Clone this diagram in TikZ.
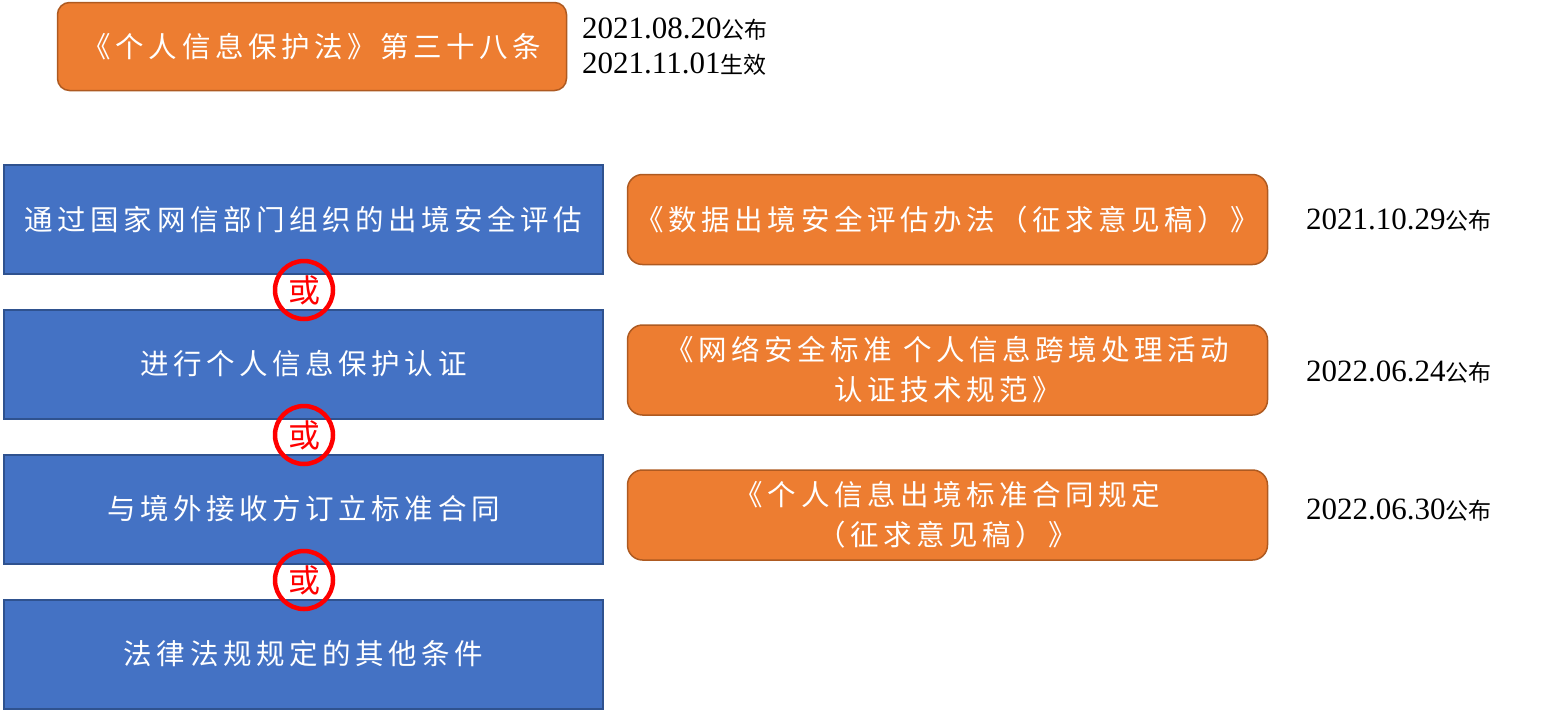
\documentclass[tikz,border=0pt]{standalone}
\usepackage{fontspec}
\usepackage{tikz}
\setmainfont{Liberation Serif}
\newfontfamily\cjk[LetterSpace=16]{Noto Sans CJK SC}
\newfontfamily\cjkdate{Noto Sans CJK SC}
\newcommand{\datezh}[1]{{\cjkdate\fontsize{23}{23}\selectfont #1}}
\definecolor{boxblue}{HTML}{4472C4}
\definecolor{blueline}{HTML}{2F528F}
\definecolor{boxorange}{HTML}{ED7D31}
\definecolor{orangeline}{HTML}{AE5A21}

\begin{document}
\begin{tikzpicture}[x=1pt,y=-1pt]
    \tikzstyle{cond}=[draw=blueline,line width=2pt,fill=boxblue,minimum width=599pt,minimum height=109pt,inner sep=0pt,text=white,font=\cjk\fontsize{28.5}{40}\selectfont]
    \tikzstyle{law}=[draw=orangeline,line width=1.5pt,fill=boxorange,rounded corners=15pt,minimum width=640pt,minimum height=90pt,inner sep=0pt,text=white,align=center,font=\cjk\fontsize{28.5}{40}\selectfont]
    \tikzstyle{huo}=[circle,draw=red,line width=4.5pt,minimum size=58pt,inner sep=0pt,text=red,font=\cjkdate\fontsize{32}{32}\selectfont]
    \tikzstyle{date}=[anchor=west,inner sep=0pt,align=left,font=\fontsize{31}{35}\selectfont]
    \useasboundingbox (0,0) rectangle (1544,710);
      \node[law,minimum width=509pt,minimum height=88pt,rounded corners=12pt] (pipl) at (312,46.5) {《个人信息保护法》第三十八条};
      \node[date] (pipl_date) at (582,47) {2021.08.20\datezh{公布}\\2021.11.01\datezh{生效}};
      \node[cond] (c_1) at (303.5,219.5) {通过国家网信部门组织的出境安全评估};
      \node[cond] (c_2) at (303.5,364)   {进行个人信息保护认证};
      \node[cond] (c_3) at (303.5,509)   {与境外接收方订立标准合同};
      \node[cond] (c_4) at (303.5,654)   {法律法规规定的其他条件};
      \node[huo] (or_1) at (304,290) {或};
      \node[huo] (or_2) at (304,435) {或};
      \node[huo] (or_3) at (304,580) {或};
      \node[law] (law_1) at (947.5,219.5) {《数据出境安全评估办法（征求意见稿）》};
      \node[law] (law_2) at (947.5,370)   {《网络安全标准 个人信息跨境处理活动\\认证技术规范》};
      \node[law] (law_3) at (947.5,515)   {《个人信息出境标准合同规定\\（征求意见稿）》};
      \node[date] (date_1) at (1306,220) {2021.10.29\datezh{公布}};
      \node[date] (date_2) at (1306,372) {2022.06.24\datezh{公布}};
      \node[date] (date_3) at (1306,510) {2022.06.30\datezh{公布}};
    \end{tikzpicture}
\end{document}
